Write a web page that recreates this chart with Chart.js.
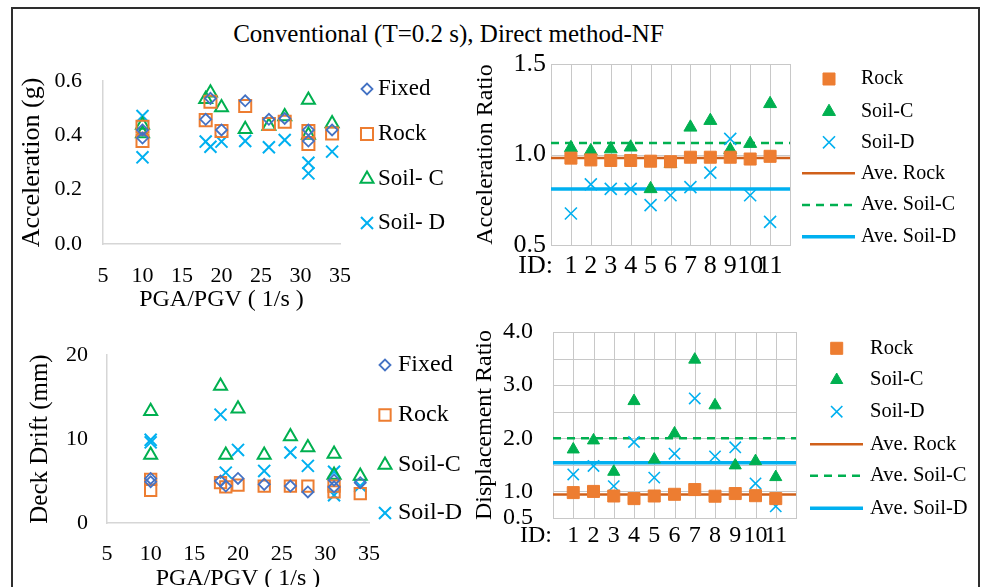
<!DOCTYPE html>
<html>
<head>
<meta charset="utf-8">
<script src="https://cdn.jsdelivr.net/npm/chart.js@4.4.1/dist/chart.umd.min.js"></script>
<style>
  html, body { margin: 0; padding: 0; background: #fff; overflow: hidden; }
  body { width: 981px; height: 587px; position: relative; font-family: "Liberation Serif", "Times New Roman", serif; }
  #marco { position: absolute; left: 11px; top: 7px; width: 969px; height: 640px; box-sizing: border-box; border: 2px solid #2e2e2e; }
  #titulo { position: absolute; left: 0; width: 897px; top: 19px; text-align: center; font-size: 25px; line-height: 30px; color: #000; }
  canvas { position: absolute; }
</style>
</head>
<body>
<div id="marco"></div>
<div id="titulo">Conventional (T=0.2 s), Direct method-NF</div>
<canvas id="accAbs" width="458" height="270" style="left:12px;top:55px"></canvas>
<canvas id="accRatio" width="505" height="270" style="left:470px;top:45px"></canvas>
<canvas id="driftAbs" width="458" height="280" style="left:12px;top:325px"></canvas>
<canvas id="dispRatio" width="505" height="262" style="left:470px;top:315px"></canvas>
<script>
// datos
const pgaPgv = [10, 10, 18, 18.6, 20, 23, 26, 28, 31, 31, 34];
const accFixed = [0.42, 0.39, 0.459, 0.536, 0.42, 0.527, 0.459, 0.462, 0.42, 0.379, 0.42];
const accRock = [0.432, 0.379, 0.456, 0.524, 0.416, 0.508, 0.442, 0.45, 0.416, 0.368, 0.407];
const accSoilC = [0.438, 0.407, 0.533, 0.557, 0.502, 0.422, 0.434, 0.469, 0.53, 0.401, 0.444];
const accSoilD = [0.471, 0.319, 0.377, 0.358, 0.377, 0.379, 0.356, 0.383, 0.299, 0.26, 0.34];

const driftFixed = [5.3, 4.9, 5.0, 4.4, 5.3, 4.6, 4.4, 3.7, 5.1, 4.3, 4.8];
const driftRock = [5.2, 3.9, 4.8, 4.3, 4.5, 4.4, 4.4, 4.4, 4.4, 3.7, 3.5];
const driftSoilC = [13.3, 8.1, 16.3, 8.1, 13.6, 8.1, 10.3, 9.0, 8.2, 5.7, 5.6];
const driftSoilD = [9.6, 9.9, 12.9, 6.0, 8.7, 6.2, 8.4, 6.8, 6.1, 3.3, 4.4];

const recordId = [1, 2, 3, 4, 5, 6, 7, 8, 9, 10, 11];
const accRatioRock = [0.98, 0.97, 0.967, 0.967, 0.963, 0.96, 0.985, 0.985, 0.985, 0.975, 0.99];
const accRatioSoilC = [1.037, 1.02, 1.03, 1.04, 0.81, 0.95, 1.15, 1.187, 1.026, 1.06, 1.28];
const accRatioSoilD = [0.674, 0.835, 0.81, 0.81, 0.72, 0.775, 0.82, 0.9, 1.086, 0.775, 0.628];
const aveAccRatio = [0.98, 1.064, 0.81]; // Rock, Soil-C, Soil-D

const dispRatioRock = [0.978, 1.0, 0.914, 0.865, 0.914, 0.946, 1.035, 0.91, 0.96, 0.92, 0.865];
const dispRatioSoilC = [1.79, 1.96, 1.37, 2.7, 1.6, 2.09, 3.48, 2.62, 1.49, 1.57, 1.27];
const dispRatioSoilD = [1.32, 1.48, 1.1, 1.93, 1.26, 1.71, 2.75, 1.66, 1.83, 1.15, 0.72];
const aveDispRatio = [0.94, 2.0, 1.54];
const dispRatioTicks = [0.5, 1, 1.5, 2, 2.5, 3, 3.5, 4];
const dispRatioLabeled = [0.5, 1, 2, 3, 4];

const idRange = [0, 12];
const serif = '"Liberation Serif", "Times New Roman", serif';
const gris = '#d6d6d6';
const grisRejilla = '#c8c8c8';
const col = { fixed: '#4472C4', rock: '#ED7D31', soilC: '#00B050', soilD: '#00B0F0', aveRock: '#D0601A' };

Chart.defaults.font.family = serif;
Chart.defaults.color = '#000';

const pts = (xs, ys) => xs.map((x, i) => ({ x, y: ys[i] }));
const flat = v => idRange.map(x => ({ x, y: v }));

function marker(label, data, style, color, radius, hollow, bw) {
    return {
        label, data, pointStyle: style, pointRadius: radius, pointHoverRadius: radius,
        pointBorderColor: color, pointBackgroundColor: hollow ? 'rgba(0,0,0,0)' : color,
        pointBorderWidth: bw, borderColor: color, backgroundColor: color, showLine: false, clip: false
    };
}
function aveLine(label, v, color, width, dash) {
    return {
        label, data: flat(v), showLine: true, fill: false, borderColor: color, borderWidth: width,
        borderDash: dash || [], pointRadius: 0, pointHoverRadius: 0
    };
}

// el eje y no debe empujar el área del gráfico por la mitad de su etiqueta
const fixWidth = w => s => { s.width = w; s.paddingTop = 0; s.paddingBottom = 0; };

// rejilla de los paneles de razón: un rectángulo de 1 px por cada tick de las escalas
const tickGrid = {
    id: 'tickGrid',
    beforeDatasetsDraw(chart, args, o) {
        if (!o.on) return;
        const { ctx, chartArea: a, scales } = chart;
        const top = Math.round(a.top), bottom = Math.round(a.bottom);
        const left = Math.round(a.left), right = Math.round(a.right);
        ctx.save();
        ctx.setLineDash([]);
        ctx.globalAlpha = 1;
        ctx.fillStyle = grisRejilla;
        scales.x.ticks.forEach(t => {
            const px = Math.round(scales.x.getPixelForValue(t.value));
            ctx.fillRect(px, top, 1, bottom - top + 1);
        });
        scales.y.ticks.forEach(t => {
            const py = Math.round(scales.y.getPixelForValue(t.value));
            ctx.fillRect(left, py, right - left + 1, 1);
        });
        ctx.restore();
    }
};

// leyenda a la derecha dibujada a mano, y el texto "ID:" bajo el eje
const sideLegend = {
    id: 'sideLegend',
    afterDraw(chart, args, o) {
        const ctx = chart.ctx;
        ctx.save();
        ctx.textBaseline = 'middle';
        chart.data.datasets.forEach((ds, i) => {
            const y = o.rows[i];
            if (ds.showLine) {
                ctx.strokeStyle = ds.borderColor;
                ctx.lineWidth = ds.borderWidth;
                ctx.setLineDash(ds.borderDash);
                ctx.beginPath();
                ctx.moveTo(o.lineFrom, y);
                ctx.lineTo(o.lineTo, y);
                ctx.stroke();
                ctx.setLineDash([]);
            } else {
                ctx.fillStyle = ds.pointBackgroundColor;
                ctx.strokeStyle = ds.pointBorderColor;
                ctx.lineWidth = ds.pointBorderWidth;
                Chart.helpers.drawPoint(ctx, { pointStyle: ds.pointStyle, radius: ds.pointRadius, borderWidth: ds.pointBorderWidth, rotation: 0 }, o.markX, y);
            }
            ctx.fillStyle = '#000';
            ctx.font = o.font;
            ctx.textAlign = 'left';
            ctx.fillText(ds.label, o.textX, y);
        });
        if (o.idLabel) {
            const a = chart.chartArea;
            ctx.font = o.idLabel.font;
            ctx.textAlign = 'right';
            ctx.fillStyle = '#000';
            ctx.fillText('ID:', a.left + o.idLabel.dx, a.bottom + o.idLabel.dy);
        }
        ctx.restore();
    }
};

function panel(id, datasets, scales, pad, legend, withGrid) {
    return new Chart(document.getElementById(id), {
        type: 'scatter',
        data: { datasets },
        options: {
            responsive: false,
            animation: false,
            events: [],
            layout: { padding: pad, autoPadding: false },
            plugins: { legend: { display: false }, tooltip: { enabled: false }, sideLegend: legend, tickGrid: { on: !!withGrid } },
            scales
        },
        plugins: [tickGrid, sideLegend]
    });
}

function pgaAxis(pad) {
    return {
        type: 'linear', min: 5, max: 35,
        ticks: { stepSize: 5, padding: pad, color: '#000', font: { family: serif, size: 22 }, maxRotation: 0, autoSkip: false },
        grid: { display: false },
        border: { color: gris, width: 1.5 },
        title: { display: true, text: 'PGA/PGV ( 1/s )', color: '#000', font: { family: serif, size: 24 }, padding: { top: 0, bottom: 0 } },
        afterFit: s => { s.height = 70; }
    };
}
function idAxis(pad, size) {
    return {
        type: 'linear', min: idRange[0], max: idRange[1],
        ticks: { stepSize: 1, padding: pad, autoSkip: false, maxRotation: 0, minRotation: 0, color: '#000',
            font: { family: serif, size }, callback: v => (v >= 1 && v <= 11) ? String(v) : '' },
        grid: { display: false, drawTicks: false },
        border: { display: false },
        afterFit: s => { s.height = 40; }
    };
}

panel('accAbs', [
    marker('Fixed', pts(pgaPgv, accFixed), 'rectRot', col.fixed, 5.5, true, 1.8),
    marker('Rock', pts(pgaPgv, accRock), 'rect', col.rock, 8.5, true, 2),
    marker('Soil- C', pts(pgaPgv, accSoilC), 'triangle', col.soilC, 7.5, true, 2),
    marker('Soil- D', pts(pgaPgv, accSoilD), 'crossRot', col.soilD, 8.5, true, 2)
], {
    x: pgaAxis(11),
    y: {
        min: 0, max: 0.6,
        ticks: { stepSize: 0.2, padding: 13, autoSkip: false, color: '#000', font: { family: serif, size: 22 }, callback: v => v.toFixed(1) },
        grid: { display: false },
        border: { color: gris, width: 1.5 },
        title: { display: true, text: 'Acceleration (g)', color: '#000', font: { family: serif, size: 26 }, padding: { top: 5, bottom: 0 } },
        afterFit: fixWidth(91)
    }
}, { left: 0, top: 26, right: 130, bottom: 11 },
{ rows: [34, 79, 124, 168], markX: 355, textX: 366, font: '23px ' + serif });

panel('driftAbs', [
    marker('Fixed', pts(pgaPgv, driftFixed), 'rectRot', col.fixed, 5.5, true, 1.8),
    marker('Rock', pts(pgaPgv, driftRock), 'rect', col.rock, 8, true, 2),
    marker('Soil-C', pts(pgaPgv, driftSoilC), 'triangle', col.soilC, 7.5, true, 2),
    marker('Soil-D', pts(pgaPgv, driftSoilD), 'crossRot', col.soilD, 8.5, true, 2)
], {
    x: pgaAxis(10),
    y: {
        min: 0, max: 20,
        ticks: { stepSize: 10, padding: 11, autoSkip: false, color: '#000', font: { family: serif, size: 22 } },
        grid: { display: false },
        border: { color: gris, width: 1.5 },
        title: { display: true, text: 'Deck Drift (mm)', color: '#000', font: { family: serif, size: 25 }, padding: { top: 13, bottom: 0 } },
        afterFit: fixWidth(95)
    }
}, { left: 0, top: 30, right: 101, bottom: 12 },
{ rows: [40, 90, 140, 188], markX: 373, textX: 386, font: '24px ' + serif });

panel('accRatio', [
    marker('Rock', pts(recordId, accRatioRock), 'rect', col.rock, 8.5, false, 1),
    marker('Soil-C', pts(recordId, accRatioSoilC), 'triangle', col.soilC, 7.5, false, 1),
    marker('Soil-D', pts(recordId, accRatioSoilD), 'crossRot', col.soilD, 8.5, true, 1.6),
    aveLine('Ave. Rock', aveAccRatio[0], col.aveRock, 2.5),
    aveLine('Ave. Soil-C', aveAccRatio[1], col.soilC, 2.5, [8, 6]),
    aveLine('Ave. Soil-D', aveAccRatio[2], col.soilD, 3.5)
], {
    x: idAxis(6, 26),
    y: {
        min: 0.5, max: 1.5,
        ticks: { stepSize: 0.5, padding: 5, autoSkip: false, color: '#000', font: { family: serif, size: 26 }, callback: v => v.toFixed(1) },
        grid: { display: false, drawTicks: false },
        border: { display: false },
        title: { display: true, text: 'Acceleration Ratio', color: '#000', font: { family: serif, size: 24 }, padding: { top: 1.6, bottom: 0 } },
        afterFit: fixWidth(81)
    }
}, { left: 0, top: 19, right: 185, bottom: 30 },
{ rows: [34, 66.7, 97.3, 128.3, 160, 191.7], markX: 359, textX: 391, lineFrom: 332, lineTo: 385, font: '20px ' + serif,
  idLabel: { dx: 2, dy: 21.6, font: '26px ' + serif } }, true);

panel('dispRatio', [
    marker('Rock', pts(recordId, dispRatioRock), 'rect', col.rock, 8.5, false, 1),
    marker('Soil-C', pts(recordId, dispRatioSoilC), 'triangle', col.soilC, 7, false, 1),
    marker('Soil-D', pts(recordId, dispRatioSoilD), 'crossRot', col.soilD, 8, true, 1.6),
    aveLine('Ave. Rock', aveDispRatio[0], col.aveRock, 2.5),
    aveLine('Ave. Soil-C', aveDispRatio[1], col.soilC, 2.5, [8, 6]),
    aveLine('Ave. Soil-D', aveDispRatio[2], col.soilD, 3.5)
], {
    x: idAxis(3, 24),
    y: {
        min: 0.5, max: 4,
        afterBuildTicks: s => { s.ticks = dispRatioTicks.map(value => ({ value })); },
        ticks: { padding: 20, autoSkip: false, color: '#000', font: { family: serif, size: 24 },
            callback: v => dispRatioLabeled.includes(v) ? v.toFixed(1) : '' },
        grid: { display: false, drawTicks: false },
        border: { display: false },
        title: { display: true, text: 'Displacement Ratio', color: '#000', font: { family: serif, size: 24 }, padding: { top: 0, bottom: 0 } },
        afterFit: fixWidth(83)
    }
}, { left: 0, top: 17, right: 179, bottom: 19 },
{ rows: [33.3, 65, 96.7, 129.3, 160.7, 193.3], markX: 366.7, textX: 400, lineFrom: 340, lineTo: 393, font: '20.5px ' + serif,
  idLabel: { dx: -1, dy: 17.4, font: '24px ' + serif } }, true);
</script>
</body>
</html>
